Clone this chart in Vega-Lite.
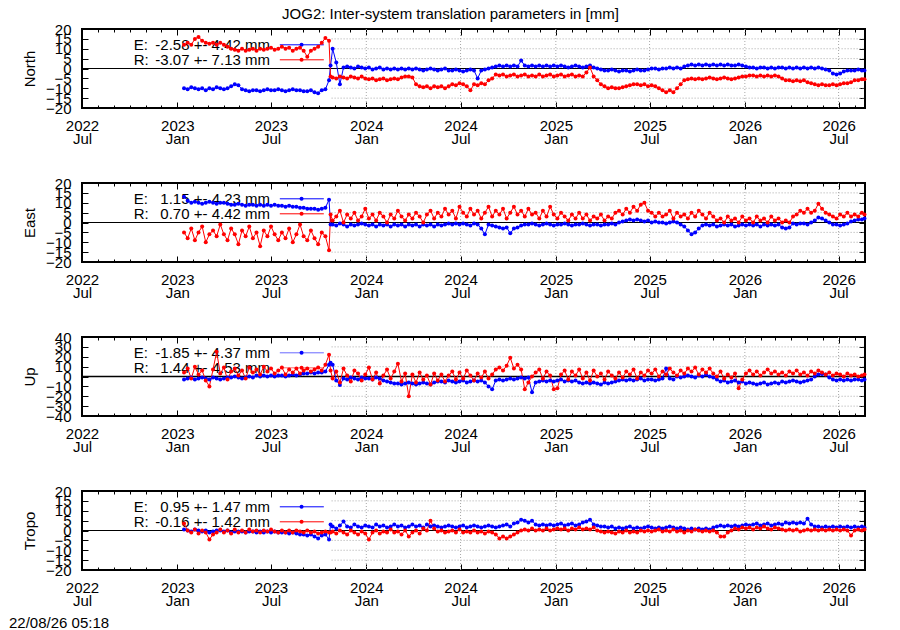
{
  "$schema": "https://vega.github.io/schema/vega-lite/v6.json",
  "autosize": {"type": "pad"},
  "padding": {"left": 8, "top": 7, "right": 30, "bottom": 0},
  "background": "white",
  "title": {"text": "JOG2: Inter-system translation parameters in [mm]", "anchor": "middle", "frame": "group", "dx": -23, "offset": -13, "baseline": "alphabetic", "fontSize": 15, "fontWeight": "normal", "font": "Liberation Sans", "color": "black"},
  "bounds": "flush",
  "spacing": 75,
  "data": {"values": [
    {"d":"2023-01-14","nE":-10,"nR":12,"eE":13,"eR":-5,"uE":-3,"uR":4,"tE":0.5,"tR":3.5},
    {"d":"2023-01-21","nE":-10.5,"nR":13,"eE":11,"eR":-8,"uE":-2,"uR":8,"tE":0,"tR":0},
    {"d":"2023-01-28","nE":-9.5,"nR":12,"eE":10,"eR":-3,"uE":-1,"uR":-2,"tE":-0.5,"tR":-1},
    {"d":"2023-02-04","nE":-10,"nR":15,"eE":10.5,"eR":-9,"uE":-3,"uR":10,"tE":0.5,"tR":0.5},
    {"d":"2023-02-11","nE":-10.5,"nR":16,"eE":10,"eR":-5,"uE":-2,"uR":2,"tE":0,"tR":-1.5},
    {"d":"2023-02-18","nE":-10,"nR":14,"eE":9.5,"eR":-2,"uE":-1,"uR":6,"tE":-0.5,"tR":0},
    {"d":"2023-02-25","nE":-11,"nR":13,"eE":10,"eR":-10,"uE":-2,"uR":-4,"tE":0,"tR":-1},
    {"d":"2023-03-04","nE":-10,"nR":12.5,"eE":10.5,"eR":-6,"uE":-3,"uR":-10,"tE":-1,"tR":-4.5},
    {"d":"2023-03-11","nE":-10.5,"nR":13,"eE":10,"eR":-4,"uE":-1,"uR":7,"tE":-0.5,"tR":-2},
    {"d":"2023-03-18","nE":-9.5,"nR":12,"eE":9.5,"eR":-7,"uE":-2,"uR":25,"tE":0,"tR":-1},
    {"d":"2023-03-25","nE":-10,"nR":13,"eE":10,"eR":-1,"uE":-3,"uR":3,"tE":0,"tR":0.5},
    {"d":"2023-04-01","nE":-10.5,"nR":12,"eE":10,"eR":-6,"uE":-2,"uR":9,"tE":-0.5,"tR":-1},
    {"d":"2023-04-08","nE":-10,"nR":11,"eE":9.5,"eR":-9,"uE":-1,"uR":-3,"tE":0,"tR":0},
    {"d":"2023-04-15","nE":-9,"nR":10,"eE":9,"eR":-3,"uE":-1,"uR":5,"tE":-1,"tR":-1.5},
    {"d":"2023-04-22","nE":-8,"nR":9.5,"eE":9,"eR":-6,"uE":0,"uR":8,"tE":-0.5,"tR":0.5},
    {"d":"2023-04-29","nE":-8.5,"nR":9,"eE":9.5,"eR":-11,"uE":-1,"uR":1,"tE":-0.5,"tR":-1},
    {"d":"2023-05-06","nE":-10.5,"nR":10,"eE":9,"eR":-4,"uE":-2,"uR":6,"tE":-0.5,"tR":0},
    {"d":"2023-05-13","nE":-11,"nR":9,"eE":8.5,"eR":-7,"uE":-1,"uR":-2,"tE":-1,"tR":-1},
    {"d":"2023-05-20","nE":-11.5,"nR":9.5,"eE":9,"eR":-2,"uE":0,"uR":9,"tE":-0.5,"tR":0.5},
    {"d":"2023-05-27","nE":-11,"nR":10,"eE":9,"eR":-8,"uE":-1,"uR":4,"tE":-0.5,"tR":-0.5},
    {"d":"2023-06-03","nE":-11,"nR":9,"eE":8.5,"eR":-5,"uE":1,"uR":7,"tE":-1,"tR":0},
    {"d":"2023-06-10","nE":-11.5,"nR":10,"eE":9,"eR":-12,"uE":0,"uR":2,"tE":-0.5,"tR":-1},
    {"d":"2023-06-17","nE":-11,"nR":9.5,"eE":8.5,"eR":-4,"uE":1,"uR":10,"tE":-1,"tR":0},
    {"d":"2023-06-24","nE":-10.5,"nR":10,"eE":9,"eR":-7,"uE":0,"uR":5,"tE":-0.5,"tR":-0.5},
    {"d":"2023-07-01","nE":-11,"nR":10.5,"eE":8.5,"eR":-2,"uE":1,"uR":8,"tE":-1,"tR":0.5},
    {"d":"2023-07-08","nE":-11,"nR":9.5,"eE":9,"eR":-6,"uE":0,"uR":3,"tE":-0.5,"tR":-0.5},
    {"d":"2023-07-15","nE":-10.5,"nR":10,"eE":8.5,"eR":-9,"uE":1,"uR":6,"tE":-1,"tR":-1},
    {"d":"2023-07-22","nE":-11,"nR":11,"eE":8.5,"eR":-5,"uE":1,"uR":9,"tE":-1,"tR":0},
    {"d":"2023-07-29","nE":-11.5,"nR":10,"eE":8,"eR":-8,"uE":0,"uR":2,"tE":-1,"tR":-1},
    {"d":"2023-08-05","nE":-11,"nR":10.5,"eE":8.5,"eR":-3,"uE":1,"uR":7,"tE":-1.5,"tR":0},
    {"d":"2023-08-12","nE":-10.5,"nR":9,"eE":8,"eR":-10,"uE":2,"uR":4,"tE":-1,"tR":-1},
    {"d":"2023-08-19","nE":-11,"nR":10,"eE":8,"eR":-6,"uE":1,"uR":8,"tE":-1.5,"tR":0},
    {"d":"2023-08-26","nE":-11,"nR":10.5,"eE":7.5,"eR":-1,"uE":2,"uR":3,"tE":-2,"tR":-0.5},
    {"d":"2023-09-02","nE":-11.5,"nR":9,"eE":7.5,"eR":-7,"uE":3,"uR":6,"tE":-2,"tR":-1},
    {"d":"2023-09-09","nE":-11.5,"nR":6,"eE":7,"eR":-9,"uE":3,"uR":8,"tE":-2.5,"tR":0},
    {"d":"2023-09-16","nE":-11,"nR":9,"eE":7,"eR":-4,"uE":4,"uR":5,"tE":-2,"tR":-1},
    {"d":"2023-09-23","nE":-12,"nR":10,"eE":7,"eR":-8,"uE":3,"uR":7,"tE":-3,"tR":-0.5},
    {"d":"2023-09-30","nE":-12.5,"nR":11,"eE":6.5,"eR":-11,"uE":4,"uR":9,"tE":-4,"tR":-1.5},
    {"d":"2023-10-07","nE":-11,"nR":13,"eE":7,"eR":-5,"uE":4,"uR":6,"tE":-2.5,"tR":-1},
    {"d":"2023-10-14","nE":-10.5,"nR":15.5,"eE":7.5,"eR":-7,"uE":5,"uR":12,"tE":-2,"tR":-0.5},
    {"d":"2023-10-21","nE":-6,"nR":14,"eE":11.5,"eR":-14,"uE":12,"uR":22,"tE":-4.5,"tR":-1},
    {"d":"2023-10-24","nE":1.5,"nR":-4,"eE":-1,"eR":4,"uE":14,"uR":6,"tE":3,"tR":-1},
    {"d":"2023-10-28","nE":10,"nR":-4.5,"eE":-1,"eR":1,"uE":12,"uR":-2,"tE":2,"tR":-0.5},
    {"d":"2023-11-04","nE":3,"nR":-5,"eE":-1.5,"eR":3,"uE":-4,"uR":5,"tE":1,"tR":-1.5},
    {"d":"2023-11-11","nE":-8,"nR":-4,"eE":-0.5,"eR":6,"uE":-8.5,"uR":-6,"tE":2.5,"tR":0},
    {"d":"2023-11-18","nE":0.5,"nR":-4.5,"eE":-1,"eR":0,"uE":-2,"uR":8,"tE":4.5,"tR":-1},
    {"d":"2023-11-25","nE":1,"nR":-5,"eE":-2,"eR":4,"uE":-3,"uR":1,"tE":2,"tR":-2},
    {"d":"2023-12-02","nE":0.5,"nR":-4,"eE":-1,"eR":2,"uE":-1,"uR":-5,"tE":1.5,"tR":0},
    {"d":"2023-12-09","nE":0,"nR":-4.5,"eE":-1.5,"eR":5,"uE":-2,"uR":6,"tE":3,"tR":-1},
    {"d":"2023-12-16","nE":1,"nR":-5,"eE":-1,"eR":1,"uE":-3,"uR":3,"tE":2,"tR":-2},
    {"d":"2023-12-23","nE":0.5,"nR":-4,"eE":-0.5,"eR":3,"uE":-1,"uR":-4,"tE":1.5,"tR":-0.5},
    {"d":"2023-12-30","nE":0,"nR":-5,"eE":-1,"eR":7,"uE":-2,"uR":2,"tE":2.5,"tR":-1.5},
    {"d":"2024-01-06","nE":0.5,"nR":-5.5,"eE":-1.5,"eR":2,"uE":-2,"uR":9,"tE":2,"tR":-4.5},
    {"d":"2024-01-13","nE":-0.5,"nR":-5,"eE":-1,"eR":4,"uE":-3,"uR":-3,"tE":1.5,"tR":-1},
    {"d":"2024-01-20","nE":0,"nR":-6,"eE":-2,"eR":1,"uE":-1,"uR":4,"tE":3,"tR":0},
    {"d":"2024-01-27","nE":0.5,"nR":-5.5,"eE":-1,"eR":5,"uE":-2,"uR":-7,"tE":2,"tR":-1.5},
    {"d":"2024-02-03","nE":-0.5,"nR":-5,"eE":-1.5,"eR":3,"uE":-4,"uR":1,"tE":2.5,"tR":-0.5},
    {"d":"2024-02-10","nE":0,"nR":-6,"eE":-1,"eR":0,"uE":-5,"uR":7,"tE":1.5,"tR":-1},
    {"d":"2024-02-17","nE":-0.5,"nR":-5.5,"eE":-2,"eR":4,"uE":-6,"uR":-2,"tE":2,"tR":0.5},
    {"d":"2024-02-24","nE":0,"nR":-5,"eE":-1,"eR":2,"uE":-7,"uR":5,"tE":3,"tR":-1},
    {"d":"2024-03-02","nE":-0.5,"nR":-5.5,"eE":-1.5,"eR":6,"uE":-7,"uR":13,"tE":2,"tR":-0.5},
    {"d":"2024-03-09","nE":0,"nR":-4.5,"eE":-1,"eR":3,"uE":-8,"uR":-5,"tE":2.5,"tR":-2},
    {"d":"2024-03-16","nE":-0.5,"nR":-4,"eE":-2,"eR":1,"uE":-7,"uR":3,"tE":1.5,"tR":0},
    {"d":"2024-03-23","nE":0,"nR":-4,"eE":-1,"eR":4,"uE":-6,"uR":-20,"tE":2,"tR":-3},
    {"d":"2024-03-30","nE":-0.5,"nR":-4.5,"eE":-1.5,"eR":2,"uE":-7,"uR":2,"tE":3,"tR":-1},
    {"d":"2024-04-06","nE":0,"nR":-8,"eE":-1,"eR":5,"uE":-8,"uR":-6,"tE":2,"tR":0},
    {"d":"2024-04-13","nE":-0.5,"nR":-9,"eE":-2,"eR":3,"uE":-7,"uR":4,"tE":2.5,"tR":-1.5},
    {"d":"2024-04-20","nE":-1,"nR":-9.5,"eE":-1,"eR":0,"uE":-6,"uR":-3,"tE":1.5,"tR":1},
    {"d":"2024-04-27","nE":-0.5,"nR":-9,"eE":-1.5,"eR":4,"uE":-7,"uR":1,"tE":3,"tR":0},
    {"d":"2024-05-04","nE":0,"nR":-10,"eE":-1,"eR":6,"uE":-8,"uR":-8,"tE":2,"tR":5},
    {"d":"2024-05-11","nE":-0.5,"nR":-9,"eE":-2,"eR":2,"uE":-6,"uR":3,"tE":2.5,"tR":1},
    {"d":"2024-05-18","nE":-1,"nR":-9.5,"eE":-1,"eR":5,"uE":-5,"uR":-4,"tE":2,"tR":-0.5},
    {"d":"2024-05-25","nE":-0.5,"nR":-9,"eE":-1.5,"eR":3,"uE":-5,"uR":2,"tE":1.5,"tR":0},
    {"d":"2024-06-01","nE":0,"nR":-10,"eE":-1,"eR":7,"uE":-6,"uR":-5,"tE":2,"tR":-1},
    {"d":"2024-06-08","nE":-1,"nR":-9,"eE":-0.5,"eR":4,"uE":-4,"uR":1,"tE":2.5,"tR":-0.5},
    {"d":"2024-06-15","nE":-1,"nR":-8,"eE":-1,"eR":6,"uE":-5,"uR":5,"tE":2,"tR":0},
    {"d":"2024-06-22","nE":-0.5,"nR":-8.5,"eE":-0.5,"eR":2,"uE":-6,"uR":-3,"tE":1.5,"tR":-1},
    {"d":"2024-06-29","nE":-1,"nR":-7.5,"eE":-1,"eR":8,"uE":-5,"uR":4,"tE":2,"tR":0.5},
    {"d":"2024-07-06","nE":-1.5,"nR":-8,"eE":-0.5,"eR":5,"uE":-4,"uR":-2,"tE":2.5,"tR":-1},
    {"d":"2024-07-13","nE":-1,"nR":-9,"eE":-1,"eR":3,"uE":-6,"uR":6,"tE":1.5,"tR":-0.5},
    {"d":"2024-07-20","nE":-0.5,"nR":-11,"eE":-1.5,"eR":7,"uE":-5,"uR":1,"tE":2,"tR":-1},
    {"d":"2024-07-27","nE":-1,"nR":-8,"eE":-0.5,"eR":4,"uE":-4,"uR":-4,"tE":2.5,"tR":0},
    {"d":"2024-08-03","nE":-5,"nR":-8.5,"eE":-1,"eR":6,"uE":-5,"uR":3,"tE":2,"tR":-1},
    {"d":"2024-08-10","nE":-1,"nR":-7.5,"eE":-3,"eR":2,"uE":-4,"uR":-1,"tE":1.5,"tR":-0.5},
    {"d":"2024-08-17","nE":-0.5,"nR":-8,"eE":-6,"eR":5,"uE":-6,"uR":5,"tE":2,"tR":-1.5},
    {"d":"2024-08-24","nE":0,"nR":-6,"eE":-1,"eR":8,"uE":-10,"uR":-2,"tE":2.5,"tR":-0.5},
    {"d":"2024-08-31","nE":0.5,"nR":-5,"eE":-1.5,"eR":3,"uE":-13,"uR":2,"tE":2,"tR":-1},
    {"d":"2024-09-07","nE":1,"nR":-3,"eE":-2,"eR":6,"uE":-4,"uR":7,"tE":1.5,"tR":-2},
    {"d":"2024-09-14","nE":1.5,"nR":-3.5,"eE":-2.5,"eR":4,"uE":-3,"uR":9,"tE":2,"tR":-4},
    {"d":"2024-09-21","nE":1,"nR":-3,"eE":-3,"eR":7,"uE":-4,"uR":6,"tE":2.5,"tR":-3},
    {"d":"2024-09-28","nE":1.5,"nR":-4,"eE":-2.5,"eR":2,"uE":-3,"uR":11,"tE":3,"tR":-4},
    {"d":"2024-10-05","nE":1,"nR":-3.5,"eE":-5.5,"eR":5,"uE":-2,"uR":19,"tE":2,"tR":-3},
    {"d":"2024-10-12","nE":1.5,"nR":-3,"eE":-3,"eR":8,"uE":-3,"uR":8,"tE":3.5,"tR":-2},
    {"d":"2024-10-19","nE":1,"nR":-4,"eE":-2.5,"eR":4,"uE":-2,"uR":12,"tE":4,"tR":-1},
    {"d":"2024-10-26","nE":4,"nR":-3.5,"eE":-1.5,"eR":6,"uE":-1,"uR":7,"tE":5.5,"tR":0},
    {"d":"2024-11-02","nE":1.5,"nR":-3,"eE":-1,"eR":3,"uE":-2,"uR":-13,"tE":5,"tR":0.5},
    {"d":"2024-11-09","nE":1,"nR":-4,"eE":-1,"eR":7,"uE":-1,"uR":-6,"tE":4,"tR":0},
    {"d":"2024-11-16","nE":1.5,"nR":-3.5,"eE":-0.5,"eR":4,"uE":-16,"uR":0,"tE":5,"tR":1},
    {"d":"2024-11-23","nE":1,"nR":-4,"eE":-1,"eR":5,"uE":-6,"uR":4,"tE":3,"tR":0},
    {"d":"2024-11-30","nE":1.5,"nR":-3,"eE":-1.5,"eR":2,"uE":-5,"uR":7,"tE":2.5,"tR":0.5},
    {"d":"2024-12-07","nE":1,"nR":-4,"eE":-1,"eR":6,"uE":-4,"uR":-2,"tE":3,"tR":0},
    {"d":"2024-12-14","nE":1.5,"nR":-3.5,"eE":-0.5,"eR":3,"uE":-5,"uR":5,"tE":2.5,"tR":1},
    {"d":"2024-12-21","nE":1,"nR":-3,"eE":-1,"eR":8,"uE":-4,"uR":1,"tE":3,"tR":0},
    {"d":"2024-12-28","nE":1.5,"nR":-4,"eE":-1.5,"eR":4,"uE":-5,"uR":-13,"tE":2.5,"tR":0.5},
    {"d":"2025-01-04","nE":1,"nR":-3.5,"eE":-1,"eR":2,"uE":-4,"uR":-12,"tE":3,"tR":1},
    {"d":"2025-01-11","nE":1.5,"nR":-3,"eE":-1,"eR":5,"uE":-3,"uR":2,"tE":3.5,"tR":0.5},
    {"d":"2025-01-18","nE":1,"nR":-4,"eE":-0.5,"eR":3,"uE":-5,"uR":6,"tE":2.5,"tR":1},
    {"d":"2025-01-25","nE":0.5,"nR":-3.5,"eE":-1,"eR":1,"uE":-4,"uR":-3,"tE":3,"tR":0},
    {"d":"2025-02-01","nE":1,"nR":-3,"eE":-1.5,"eR":4,"uE":-5,"uR":5,"tE":3.5,"tR":1},
    {"d":"2025-02-08","nE":1.5,"nR":-4,"eE":-1,"eR":2,"uE":-4,"uR":1,"tE":2.5,"tR":0.5},
    {"d":"2025-02-15","nE":1,"nR":-3.5,"eE":-1,"eR":5,"uE":-6,"uR":7,"tE":3,"tR":1.5},
    {"d":"2025-02-22","nE":0.5,"nR":-4,"eE":-0.5,"eR":2,"uE":-7,"uR":-2,"tE":4,"tR":0.5},
    {"d":"2025-03-01","nE":1,"nR":-2,"eE":-1,"eR":4,"uE":-6,"uR":4,"tE":4.5,"tR":1},
    {"d":"2025-03-08","nE":1.5,"nR":0.5,"eE":-1.5,"eR":1,"uE":-7,"uR":-4,"tE":5.5,"tR":0.5},
    {"d":"2025-03-15","nE":0.5,"nR":-4,"eE":-1,"eR":3,"uE":-6,"uR":6,"tE":3,"tR":1.5},
    {"d":"2025-03-22","nE":0,"nR":-6,"eE":-1,"eR":2,"uE":-7,"uR":0,"tE":2.5,"tR":0},
    {"d":"2025-03-29","nE":-0.5,"nR":-8,"eE":-1.5,"eR":4,"uE":-8,"uR":3,"tE":2,"tR":-0.5},
    {"d":"2025-04-05","nE":-1,"nR":-9,"eE":-1,"eR":1,"uE":-6,"uR":-3,"tE":2,"tR":-1},
    {"d":"2025-04-12","nE":-1,"nR":-10,"eE":-1,"eR":3,"uE":-7,"uR":5,"tE":1.5,"tR":-0.5},
    {"d":"2025-04-19","nE":-0.5,"nR":-9.5,"eE":-0.5,"eR":2,"uE":-6,"uR":1,"tE":2,"tR":-1},
    {"d":"2025-04-26","nE":-1,"nR":-10,"eE":-1,"eR":5,"uE":-5,"uR":-2,"tE":1,"tR":-1.5},
    {"d":"2025-05-03","nE":-1.5,"nR":-10,"eE":0,"eR":6,"uE":-4,"uR":4,"tE":1.5,"tR":-0.5},
    {"d":"2025-05-10","nE":-1,"nR":-9.5,"eE":0.5,"eR":4,"uE":-3,"uR":-1,"tE":1,"tR":-1},
    {"d":"2025-05-17","nE":-1,"nR":-9,"eE":1,"eR":7,"uE":-4,"uR":5,"tE":1.5,"tR":0},
    {"d":"2025-05-24","nE":-1.5,"nR":-8.5,"eE":1.5,"eR":5,"uE":-3,"uR":2,"tE":2,"tR":-1},
    {"d":"2025-05-31","nE":-1,"nR":-8,"eE":1,"eR":8,"uE":-4,"uR":7,"tE":1,"tR":-0.5},
    {"d":"2025-06-07","nE":-0.5,"nR":-8,"eE":1.5,"eR":6,"uE":-3,"uR":-2,"tE":1.5,"tR":-1},
    {"d":"2025-06-14","nE":-1,"nR":-8.5,"eE":1,"eR":9,"uE":-2,"uR":4,"tE":1,"tR":0},
    {"d":"2025-06-21","nE":-1,"nR":-8,"eE":0.5,"eR":10,"uE":-4,"uR":1,"tE":1.5,"tR":-0.5},
    {"d":"2025-06-28","nE":-0.5,"nR":-9,"eE":1,"eR":6,"uE":-3,"uR":6,"tE":2,"tR":0},
    {"d":"2025-07-05","nE":0,"nR":-8.5,"eE":0,"eR":5,"uE":-3,"uR":3,"tE":1.5,"tR":-0.5},
    {"d":"2025-07-12","nE":0,"nR":-9,"eE":0.5,"eR":3,"uE":-4,"uR":7,"tE":1,"tR":0},
    {"d":"2025-07-19","nE":-0.5,"nR":-10,"eE":0,"eR":5,"uE":-3,"uR":0,"tE":1.5,"tR":0.5},
    {"d":"2025-07-26","nE":0,"nR":-11,"eE":0,"eR":3,"uE":-2,"uR":5,"tE":1,"tR":-0.5},
    {"d":"2025-08-02","nE":0,"nR":-12,"eE":-0.5,"eR":4,"uE":8,"uR":2,"tE":1.5,"tR":0},
    {"d":"2025-08-09","nE":0.5,"nR":-11,"eE":0,"eR":6,"uE":-2,"uR":8,"tE":2,"tR":-0.5},
    {"d":"2025-08-16","nE":0,"nR":-12,"eE":0.5,"eR":2,"uE":-3,"uR":4,"tE":1.5,"tR":0.5},
    {"d":"2025-08-23","nE":0.5,"nR":-10,"eE":0,"eR":5,"uE":0,"uR":1,"tE":1,"tR":-0.5},
    {"d":"2025-08-30","nE":0,"nR":-8,"eE":-1,"eR":3,"uE":-1,"uR":6,"tE":1.5,"tR":0},
    {"d":"2025-09-06","nE":1,"nR":-6,"eE":-2,"eR":4,"uE":0,"uR":3,"tE":1,"tR":-1},
    {"d":"2025-09-13","nE":1.5,"nR":-5.5,"eE":-4,"eR":2,"uE":1,"uR":8,"tE":0.5,"tR":0},
    {"d":"2025-09-20","nE":2,"nR":-5,"eE":-6,"eR":5,"uE":0,"uR":5,"tE":1,"tR":-0.5},
    {"d":"2025-09-27","nE":1.5,"nR":-5.5,"eE":-5,"eR":3,"uE":-1,"uR":9,"tE":0.5,"tR":0.5},
    {"d":"2025-10-04","nE":2,"nR":-5,"eE":-3,"eR":6,"uE":1,"uR":2,"tE":1,"tR":0},
    {"d":"2025-10-11","nE":1.5,"nR":-5.5,"eE":-1.5,"eR":4,"uE":0,"uR":7,"tE":0.5,"tR":-0.5},
    {"d":"2025-10-18","nE":2,"nR":-5,"eE":-1,"eR":2,"uE":2,"uR":4,"tE":1,"tR":0},
    {"d":"2025-10-25","nE":1.5,"nR":-4.5,"eE":-1.5,"eR":5,"uE":0,"uR":8,"tE":0.5,"tR":-0.5},
    {"d":"2025-11-01","nE":2,"nR":-5,"eE":-1,"eR":3,"uE":-1,"uR":3,"tE":1.5,"tR":0},
    {"d":"2025-11-08","nE":1.5,"nR":-5.5,"eE":-2,"eR":1,"uE":-3,"uR":0,"tE":2,"tR":-1},
    {"d":"2025-11-15","nE":2,"nR":-5,"eE":-1.5,"eR":2,"uE":-5,"uR":5,"tE":2.5,"tR":-3},
    {"d":"2025-11-22","nE":1.5,"nR":-4.5,"eE":-1,"eR":0,"uE":-4,"uR":-2,"tE":2,"tR":-3},
    {"d":"2025-11-29","nE":2,"nR":-5,"eE":-1.5,"eR":3,"uE":-6,"uR":2,"tE":2.5,"tR":-1},
    {"d":"2025-12-06","nE":1.5,"nR":-5.5,"eE":-1,"eR":1,"uE":-5,"uR":-1,"tE":2,"tR":0},
    {"d":"2025-12-13","nE":1.5,"nR":-5,"eE":-2,"eR":2,"uE":-4,"uR":3,"tE":2.5,"tR":1},
    {"d":"2025-12-20","nE":2,"nR":-4.5,"eE":-1.5,"eR":0,"uE":-6,"uR":-12,"tE":2,"tR":0.5},
    {"d":"2025-12-27","nE":1.5,"nR":-4,"eE":-1,"eR":3,"uE":-5,"uR":-3,"tE":2.5,"tR":1.5},
    {"d":"2026-01-03","nE":1,"nR":-4,"eE":-1.5,"eR":1,"uE":-7,"uR":3,"tE":3,"tR":1},
    {"d":"2026-01-10","nE":0.5,"nR":-3.5,"eE":-1,"eR":2,"uE":-6,"uR":6,"tE":2.5,"tR":1.5},
    {"d":"2026-01-17","nE":0.5,"nR":-3.5,"eE":-1.5,"eR":0,"uE":-7,"uR":2,"tE":3,"tR":0.5},
    {"d":"2026-01-24","nE":0,"nR":-4,"eE":-1,"eR":3,"uE":-8,"uR":5,"tE":3.5,"tR":1.5},
    {"d":"2026-01-31","nE":0.5,"nR":-3.5,"eE":-2,"eR":1,"uE":-7,"uR":1,"tE":2.5,"tR":1},
    {"d":"2026-02-07","nE":0.5,"nR":-4,"eE":-1,"eR":2,"uE":-6,"uR":4,"tE":3,"tR":2},
    {"d":"2026-02-14","nE":0,"nR":-3.5,"eE":-1.5,"eR":0,"uE":-8,"uR":7,"tE":3.5,"tR":1},
    {"d":"2026-02-21","nE":0.5,"nR":-4,"eE":-1,"eR":3,"uE":-7,"uR":3,"tE":2.5,"tR":0.5},
    {"d":"2026-02-28","nE":0,"nR":-3.5,"eE":-1.5,"eR":1,"uE":-6,"uR":5,"tE":3,"tR":1.5},
    {"d":"2026-03-07","nE":0.5,"nR":-4,"eE":-1,"eR":2,"uE":-7,"uR":2,"tE":3.5,"tR":1},
    {"d":"2026-03-14","nE":0.5,"nR":-5,"eE":-2.5,"eR":0,"uE":-5,"uR":4,"tE":3,"tR":0.5},
    {"d":"2026-03-21","nE":0,"nR":-6,"eE":-3,"eR":1,"uE":-6,"uR":1,"tE":4,"tR":0},
    {"d":"2026-03-28","nE":0.5,"nR":-6,"eE":-2.5,"eR":0,"uE":-5,"uR":5,"tE":3.5,"tR":0.5},
    {"d":"2026-04-04","nE":0,"nR":-6.5,"eE":-0.5,"eR":3,"uE":-4,"uR":3,"tE":4,"tR":0},
    {"d":"2026-04-11","nE":0.5,"nR":-6,"eE":-1,"eR":4,"uE":-5,"uR":6,"tE":3.5,"tR":0.5},
    {"d":"2026-04-18","nE":0,"nR":-6.5,"eE":-0.5,"eR":6,"uE":-6,"uR":2,"tE":4,"tR":-0.5},
    {"d":"2026-04-25","nE":0.5,"nR":-6,"eE":-0.5,"eR":5,"uE":-5,"uR":4,"tE":3.5,"tR":0},
    {"d":"2026-05-02","nE":0,"nR":-7,"eE":-1,"eR":7,"uE":-4,"uR":1,"tE":6,"tR":0.5},
    {"d":"2026-05-09","nE":0.5,"nR":-7.5,"eE":0,"eR":5,"uE":-3,"uR":5,"tE":3,"tR":0},
    {"d":"2026-05-16","nE":0,"nR":-8,"eE":1,"eR":6,"uE":0,"uR":3,"tE":2,"tR":0.5},
    {"d":"2026-05-23","nE":0.5,"nR":-8.5,"eE":2.5,"eR":9.5,"uE":2,"uR":6,"tE":2,"tR":0},
    {"d":"2026-05-30","nE":0,"nR":-8,"eE":2,"eR":7,"uE":2.5,"uR":4,"tE":1.5,"tR":0.5},
    {"d":"2026-06-06","nE":-0.5,"nR":-8.5,"eE":1,"eR":5,"uE":2,"uR":2,"tE":2,"tR":0},
    {"d":"2026-06-13","nE":-1,"nR":-8.5,"eE":0,"eR":4,"uE":-1,"uR":4,"tE":1.5,"tR":0.5},
    {"d":"2026-06-20","nE":-2.5,"nR":-8,"eE":-1,"eR":3,"uE":-3,"uR":1,"tE":2,"tR":0},
    {"d":"2026-06-27","nE":-3,"nR":-8.5,"eE":-1,"eR":2,"uE":-4,"uR":3,"tE":1.5,"tR":0.5},
    {"d":"2026-07-04","nE":-2.5,"nR":-8,"eE":-1.5,"eR":4,"uE":-3,"uR":2,"tE":2,"tR":0},
    {"d":"2026-07-11","nE":-1.5,"nR":-7.5,"eE":-1,"eR":3,"uE":-4,"uR":0,"tE":1.5,"tR":0.5},
    {"d":"2026-07-18","nE":-1,"nR":-7.5,"eE":-0.5,"eR":5,"uE":-3,"uR":3,"tE":2,"tR":0},
    {"d":"2026-07-25","nE":-1,"nR":-7,"eE":0.5,"eR":3,"uE":-4,"uR":1,"tE":1.5,"tR":-2.5},
    {"d":"2026-08-01","nE":-1,"nR":-6,"eE":1,"eR":4,"uE":-3,"uR":2,"tE":2,"tR":0},
    {"d":"2026-08-08","nE":-0.5,"nR":-6,"eE":1.5,"eR":3,"uE":-3,"uR":0,"tE":1.5,"tR":0.5},
    {"d":"2026-08-15","nE":-1,"nR":-5.5,"eE":1.5,"eR":5,"uE":-4,"uR":1,"tE":2,"tR":0},
    {"d":"2026-08-20","nE":-1,"nR":-5.5,"eE":2,"eR":4,"uE":-3,"uR":2,"tE":1.5,"tR":0.5}
  ]},
  "vconcat": [
    {
      "width": 783, "height": 79,
      "resolve": {"axis": {"x": "independent", "y": "independent"}},
      "layer": [
        {"data": {"values": [{"g": -15}, {"g": -10}, {"g": -5}, {"g": 5}, {"g": 10}, {"g": 15}]},
         "mark": {"type": "rule", "color": "#a8a8a8", "strokeDash": [1, 2]},
         "encoding": {
           "x": {"datum": {"year": 2023, "month": 10, "date": 26, "utc": true}, "type": "temporal", "axis": null},
           "x2": {"datum": {"year": 2026, "month": 8, "date": 21, "utc": true}},
           "y": {"field": "g", "type": "quantitative", "axis": {"orient": "right", "values": [-20, -15, -10, -5, 0, 5, 10, 15, 20], "labels": false, "tickSize": -6, "title": null}}
         }},
        {"data": {"values": [{"d": "2024-01-01"}, {"d": "2024-07-01"}, {"d": "2025-01-01"}, {"d": "2025-07-01"}, {"d": "2026-01-01"}, {"d": "2026-07-01"}]},
         "mark": {"type": "rule", "color": "#a8a8a8", "strokeDash": [1, 2]},
         "encoding": {"x": {"field": "d", "type": "temporal", "axis": {"orient": "top", "tickCount": {"interval": "month", "step": 6}, "labels": false, "tickSize": -6, "title": null}}}},
        {"data": {"values": [{}]}, "mark": {"type": "rule", "color": "black"},
         "encoding": {"y": {"datum": 0, "type": "quantitative", "axis": null}}},
        {"data": {"values": [{}]}, "mark": {"type": "text", "text": ["E:", "R:"], "align": "left", "baseline": "middle", "lineHeight": 15},
         "encoding": {
           "x": {"datum": {"year": 2022, "month": 10, "date": 9, "utc": true}, "type": "temporal", "axis": {"orient": "bottom", "tickCount": {"interval": "month", "step": 1}, "labels": false, "tickSize": -3, "title": null}},
           "y": {"datum": 12, "type": "quantitative", "axis": null}}},
        {"data": {"values": [{}]}, "mark": {"type": "text", "text": ["-2.58 +- 4.42 mm", "-3.07 +- 7.13 mm"], "align": "right", "baseline": "middle", "lineHeight": 15},
         "encoding": {
           "x": {"datum": {"year": 2023, "month": 6, "date": 29, "utc": true}, "type": "temporal", "axis": {"orient": "top", "tickCount": {"interval": "month", "step": 1}, "labels": false, "tickSize": -3, "title": null}},
           "y": {"datum": 12, "type": "quantitative", "axis": null}}},
        {"data": {"values": [{}]}, "mark": {"type": "rule", "color": "#0000ff"},
         "encoding": {"x": {"datum": {"year": 2023, "month": 7, "date": 18, "utc": true}, "type": "temporal", "axis": null}, "x2": {"datum": {"year": 2023, "month": 10, "date": 11, "utc": true}}, "y": {"datum": 12, "type": "quantitative", "axis": null}}},
        {"data": {"values": [{}]}, "mark": {"type": "rule", "color": "#ff0000"},
         "encoding": {"x": {"datum": {"year": 2023, "month": 7, "date": 18, "utc": true}, "type": "temporal", "axis": null}, "x2": {"datum": {"year": 2023, "month": 10, "date": 11, "utc": true}}, "y": {"datum": 4.4, "type": "quantitative", "axis": null}}},
        {"data": {"values": [{}]}, "mark": {"type": "point", "filled": true, "size": 16, "opacity": 1, "color": "#0000ff"},
         "encoding": {"x": {"datum": {"year": 2023, "month": 8, "date": 29, "utc": true}, "type": "temporal", "axis": null}, "y": {"datum": 12, "type": "quantitative", "axis": null}}},
        {"data": {"values": [{}]}, "mark": {"type": "point", "filled": true, "size": 16, "opacity": 1, "color": "#ff0000"},
         "encoding": {"x": {"datum": {"year": 2023, "month": 8, "date": 29, "utc": true}, "type": "temporal", "axis": null}, "y": {"datum": 4.4, "type": "quantitative", "axis": null}}},
        {"transform": [{"fold": ["nE", "nR"], "as": ["s", "v"]}],
         "mark": {"type": "line", "strokeWidth": 1, "point": {"filled": true, "size": 16, "opacity": 1}},
         "encoding": {
           "x": {"field": "d", "type": "temporal",
                 "scale": {"type": "utc", "domain": [{"year": 2022, "month": 7, "date": 1, "utc": true}, {"year": 2026, "month": 8, "date": 21, "utc": true}]},
                 "axis": {"orient": "bottom", "tickCount": {"interval": "month", "step": 6}, "tickSize": -6, "labelPadding": 16, "labelLineHeight": 13, "labelExpr": "[utcFormat(datum.value, '%Y'), utcFormat(datum.value, '%b')]", "title": null}},
           "y": {"field": "v", "type": "quantitative", "scale": {"domain": [-20, 20], "nice": false, "zero": false},
                 "axis": {"orient": "left", "values": [-20, -15, -10, -5, 0, 5, 10, 15, 20], "tickSize": -6, "labelPadding": 17, "title": "North", "titlePadding": 8}},
           "color": {"field": "s", "type": "nominal", "scale": {"domain": ["nE", "nR"], "range": ["#0000ff", "#ff0000"]}, "legend": null}
         }}
      ]
    },
    {
      "width": 783, "height": 79,
      "resolve": {"axis": {"x": "independent", "y": "independent"}},
      "layer": [
        {"data": {"values": [{"g": -15}, {"g": -10}, {"g": -5}, {"g": 5}, {"g": 10}, {"g": 15}]},
         "mark": {"type": "rule", "color": "#a8a8a8", "strokeDash": [1, 2]},
         "encoding": {
           "x": {"datum": {"year": 2023, "month": 10, "date": 26, "utc": true}, "type": "temporal", "axis": null},
           "x2": {"datum": {"year": 2026, "month": 8, "date": 21, "utc": true}},
           "y": {"field": "g", "type": "quantitative", "axis": {"orient": "right", "values": [-20, -15, -10, -5, 0, 5, 10, 15, 20], "labels": false, "tickSize": -6, "title": null}}
         }},
        {"data": {"values": [{"d": "2024-01-01"}, {"d": "2024-07-01"}, {"d": "2025-01-01"}, {"d": "2025-07-01"}, {"d": "2026-01-01"}, {"d": "2026-07-01"}]},
         "mark": {"type": "rule", "color": "#a8a8a8", "strokeDash": [1, 2]},
         "encoding": {"x": {"field": "d", "type": "temporal", "axis": {"orient": "top", "tickCount": {"interval": "month", "step": 6}, "labels": false, "tickSize": -6, "title": null}}}},
        {"data": {"values": [{}]}, "mark": {"type": "rule", "color": "black"},
         "encoding": {"y": {"datum": 0, "type": "quantitative", "axis": null}}},
        {"data": {"values": [{}]}, "mark": {"type": "text", "text": ["E:", "R:"], "align": "left", "baseline": "middle", "lineHeight": 15},
         "encoding": {
           "x": {"datum": {"year": 2022, "month": 10, "date": 9, "utc": true}, "type": "temporal", "axis": {"orient": "bottom", "tickCount": {"interval": "month", "step": 1}, "labels": false, "tickSize": -3, "title": null}},
           "y": {"datum": 12, "type": "quantitative", "axis": null}}},
        {"data": {"values": [{}]}, "mark": {"type": "text", "text": ["1.15 +- 4.23 mm", "0.70 +- 4.42 mm"], "align": "right", "baseline": "middle", "lineHeight": 15},
         "encoding": {
           "x": {"datum": {"year": 2023, "month": 6, "date": 29, "utc": true}, "type": "temporal", "axis": {"orient": "top", "tickCount": {"interval": "month", "step": 1}, "labels": false, "tickSize": -3, "title": null}},
           "y": {"datum": 12, "type": "quantitative", "axis": null}}},
        {"data": {"values": [{}]}, "mark": {"type": "rule", "color": "#0000ff"},
         "encoding": {"x": {"datum": {"year": 2023, "month": 7, "date": 18, "utc": true}, "type": "temporal", "axis": null}, "x2": {"datum": {"year": 2023, "month": 10, "date": 11, "utc": true}}, "y": {"datum": 12, "type": "quantitative", "axis": null}}},
        {"data": {"values": [{}]}, "mark": {"type": "rule", "color": "#ff0000"},
         "encoding": {"x": {"datum": {"year": 2023, "month": 7, "date": 18, "utc": true}, "type": "temporal", "axis": null}, "x2": {"datum": {"year": 2023, "month": 10, "date": 11, "utc": true}}, "y": {"datum": 4.4, "type": "quantitative", "axis": null}}},
        {"data": {"values": [{}]}, "mark": {"type": "point", "filled": true, "size": 16, "opacity": 1, "color": "#0000ff"},
         "encoding": {"x": {"datum": {"year": 2023, "month": 8, "date": 29, "utc": true}, "type": "temporal", "axis": null}, "y": {"datum": 12, "type": "quantitative", "axis": null}}},
        {"data": {"values": [{}]}, "mark": {"type": "point", "filled": true, "size": 16, "opacity": 1, "color": "#ff0000"},
         "encoding": {"x": {"datum": {"year": 2023, "month": 8, "date": 29, "utc": true}, "type": "temporal", "axis": null}, "y": {"datum": 4.4, "type": "quantitative", "axis": null}}},
        {"transform": [{"fold": ["eE", "eR"], "as": ["s", "v"]}],
         "mark": {"type": "line", "strokeWidth": 1, "point": {"filled": true, "size": 16, "opacity": 1}},
         "encoding": {
           "x": {"field": "d", "type": "temporal",
                 "scale": {"type": "utc", "domain": [{"year": 2022, "month": 7, "date": 1, "utc": true}, {"year": 2026, "month": 8, "date": 21, "utc": true}]},
                 "axis": {"orient": "bottom", "tickCount": {"interval": "month", "step": 6}, "tickSize": -6, "labelPadding": 16, "labelLineHeight": 13, "labelExpr": "[utcFormat(datum.value, '%Y'), utcFormat(datum.value, '%b')]", "title": null}},
           "y": {"field": "v", "type": "quantitative", "scale": {"domain": [-20, 20], "nice": false, "zero": false},
                 "axis": {"orient": "left", "values": [-20, -15, -10, -5, 0, 5, 10, 15, 20], "tickSize": -6, "labelPadding": 17, "title": "East", "titlePadding": 8}},
           "color": {"field": "s", "type": "nominal", "scale": {"domain": ["eE", "eR"], "range": ["#0000ff", "#ff0000"]}, "legend": null}
         }}
      ]
    },
    {
      "width": 783, "height": 79,
      "resolve": {"axis": {"x": "independent", "y": "independent"}},
      "layer": [
        {"data": {"values": [{"g": -30}, {"g": -20}, {"g": -10}, {"g": 10}, {"g": 20}, {"g": 30}]},
         "mark": {"type": "rule", "color": "#a8a8a8", "strokeDash": [1, 2]},
         "encoding": {
           "x": {"datum": {"year": 2023, "month": 10, "date": 26, "utc": true}, "type": "temporal", "axis": null},
           "x2": {"datum": {"year": 2026, "month": 8, "date": 21, "utc": true}},
           "y": {"field": "g", "type": "quantitative", "axis": {"orient": "right", "values": [-40, -30, -20, -10, 0, 10, 20, 30, 40], "labels": false, "tickSize": -6, "title": null}}
         }},
        {"data": {"values": [{"d": "2024-01-01"}, {"d": "2024-07-01"}, {"d": "2025-01-01"}, {"d": "2025-07-01"}, {"d": "2026-01-01"}, {"d": "2026-07-01"}]},
         "mark": {"type": "rule", "color": "#a8a8a8", "strokeDash": [1, 2]},
         "encoding": {"x": {"field": "d", "type": "temporal", "axis": {"orient": "top", "tickCount": {"interval": "month", "step": 6}, "labels": false, "tickSize": -6, "title": null}}}},
        {"data": {"values": [{}]}, "mark": {"type": "rule", "color": "black", "strokeWidth": 1.5},
         "encoding": {"y": {"datum": 0, "type": "quantitative", "axis": null}}},
        {"data": {"values": [{}]}, "mark": {"type": "text", "text": ["E:", "R:"], "align": "left", "baseline": "middle", "lineHeight": 15},
         "encoding": {
           "x": {"datum": {"year": 2022, "month": 10, "date": 9, "utc": true}, "type": "temporal", "axis": {"orient": "bottom", "tickCount": {"interval": "month", "step": 1}, "labels": false, "tickSize": -3, "title": null}},
           "y": {"datum": 24, "type": "quantitative", "axis": null}}},
        {"data": {"values": [{}]}, "mark": {"type": "text", "text": ["-1.85 +- 4.37 mm", "1.44 +- 4.53 mm"], "align": "right", "baseline": "middle", "lineHeight": 15},
         "encoding": {
           "x": {"datum": {"year": 2023, "month": 6, "date": 29, "utc": true}, "type": "temporal", "axis": {"orient": "top", "tickCount": {"interval": "month", "step": 1}, "labels": false, "tickSize": -3, "title": null}},
           "y": {"datum": 24, "type": "quantitative", "axis": null}}},
        {"data": {"values": [{}]}, "mark": {"type": "rule", "color": "#6a6aff"},
         "encoding": {"x": {"datum": {"year": 2023, "month": 7, "date": 18, "utc": true}, "type": "temporal", "axis": null}, "x2": {"datum": {"year": 2023, "month": 10, "date": 11, "utc": true}}, "y": {"datum": 24, "type": "quantitative", "axis": null}}},
        {"data": {"values": [{}]}, "mark": {"type": "rule", "color": "#ff6a6a"},
         "encoding": {"x": {"datum": {"year": 2023, "month": 7, "date": 18, "utc": true}, "type": "temporal", "axis": null}, "x2": {"datum": {"year": 2023, "month": 10, "date": 11, "utc": true}}, "y": {"datum": 8.8, "type": "quantitative", "axis": null}}},
        {"data": {"values": [{}]}, "mark": {"type": "point", "filled": true, "size": 16, "opacity": 1, "color": "#0000ff"},
         "encoding": {"x": {"datum": {"year": 2023, "month": 8, "date": 29, "utc": true}, "type": "temporal", "axis": null}, "y": {"datum": 24, "type": "quantitative", "axis": null}}},
        {"data": {"values": [{}]}, "mark": {"type": "point", "filled": true, "size": 16, "opacity": 1, "color": "#ff0000"},
         "encoding": {"x": {"datum": {"year": 2023, "month": 8, "date": 29, "utc": true}, "type": "temporal", "axis": null}, "y": {"datum": 8.8, "type": "quantitative", "axis": null}}},
        {"transform": [{"fold": ["uE", "uR"], "as": ["s", "v"]}],
         "mark": {"type": "line", "strokeWidth": 1, "point": {"filled": true, "size": 16, "opacity": 1}},
         "encoding": {
           "x": {"field": "d", "type": "temporal",
                 "scale": {"type": "utc", "domain": [{"year": 2022, "month": 7, "date": 1, "utc": true}, {"year": 2026, "month": 8, "date": 21, "utc": true}]},
                 "axis": {"orient": "bottom", "tickCount": {"interval": "month", "step": 6}, "tickSize": -6, "labelPadding": 16, "labelLineHeight": 13, "labelExpr": "[utcFormat(datum.value, '%Y'), utcFormat(datum.value, '%b')]", "title": null}},
           "y": {"field": "v", "type": "quantitative", "scale": {"domain": [-40, 40], "nice": false, "zero": false},
                 "axis": {"orient": "left", "values": [-40, -30, -20, -10, 0, 10, 20, 30, 40], "tickSize": -6, "labelPadding": 17, "title": "Up", "titlePadding": 8}},
           "color": {"field": "s", "type": "nominal", "scale": {"domain": ["uE", "uR"], "range": ["#0000ff", "#ff0000"]}, "legend": null}
         }}
      ]
    },
    {
      "width": 783, "height": 79,
      "title": {"text": "22/08/26 05:18", "orient": "bottom", "anchor": "start", "frame": "group", "dx": -73, "offset": 8, "fontSize": 15, "fontWeight": "normal", "font": "Liberation Sans", "color": "black"},
      "resolve": {"axis": {"x": "independent", "y": "independent"}},
      "layer": [
        {"data": {"values": [{"g": -15}, {"g": -10}, {"g": -5}, {"g": 5}, {"g": 10}, {"g": 15}]},
         "mark": {"type": "rule", "color": "#a8a8a8", "strokeDash": [1, 2]},
         "encoding": {
           "x": {"datum": {"year": 2023, "month": 10, "date": 26, "utc": true}, "type": "temporal", "axis": null},
           "x2": {"datum": {"year": 2026, "month": 8, "date": 21, "utc": true}},
           "y": {"field": "g", "type": "quantitative", "axis": {"orient": "right", "values": [-20, -15, -10, -5, 0, 5, 10, 15, 20], "labels": false, "tickSize": -6, "title": null}}
         }},
        {"data": {"values": [{"d": "2024-01-01"}, {"d": "2024-07-01"}, {"d": "2025-01-01"}, {"d": "2025-07-01"}, {"d": "2026-01-01"}, {"d": "2026-07-01"}]},
         "mark": {"type": "rule", "color": "#a8a8a8", "strokeDash": [1, 2]},
         "encoding": {"x": {"field": "d", "type": "temporal", "axis": {"orient": "top", "tickCount": {"interval": "month", "step": 6}, "labels": false, "tickSize": -6, "title": null}}}},
        {"data": {"values": [{}]}, "mark": {"type": "rule", "color": "black"},
         "encoding": {"y": {"datum": 0, "type": "quantitative", "axis": null}}},
        {"data": {"values": [{}]}, "mark": {"type": "text", "text": ["E:", "R:"], "align": "left", "baseline": "middle", "lineHeight": 15},
         "encoding": {
           "x": {"datum": {"year": 2022, "month": 10, "date": 9, "utc": true}, "type": "temporal", "axis": {"orient": "bottom", "tickCount": {"interval": "month", "step": 1}, "labels": false, "tickSize": -3, "title": null}},
           "y": {"datum": 12, "type": "quantitative", "axis": null}}},
        {"data": {"values": [{}]}, "mark": {"type": "text", "text": ["0.95 +- 1.47 mm", "-0.16 +- 1.42 mm"], "align": "right", "baseline": "middle", "lineHeight": 15},
         "encoding": {
           "x": {"datum": {"year": 2023, "month": 6, "date": 29, "utc": true}, "type": "temporal", "axis": {"orient": "top", "tickCount": {"interval": "month", "step": 1}, "labels": false, "tickSize": -3, "title": null}},
           "y": {"datum": 12, "type": "quantitative", "axis": null}}},
        {"data": {"values": [{}]}, "mark": {"type": "rule", "color": "#0000ff"},
         "encoding": {"x": {"datum": {"year": 2023, "month": 7, "date": 18, "utc": true}, "type": "temporal", "axis": null}, "x2": {"datum": {"year": 2023, "month": 10, "date": 11, "utc": true}}, "y": {"datum": 12, "type": "quantitative", "axis": null}}},
        {"data": {"values": [{}]}, "mark": {"type": "rule", "color": "#ff0000"},
         "encoding": {"x": {"datum": {"year": 2023, "month": 7, "date": 18, "utc": true}, "type": "temporal", "axis": null}, "x2": {"datum": {"year": 2023, "month": 10, "date": 11, "utc": true}}, "y": {"datum": 4.4, "type": "quantitative", "axis": null}}},
        {"data": {"values": [{}]}, "mark": {"type": "point", "filled": true, "size": 16, "opacity": 1, "color": "#0000ff"},
         "encoding": {"x": {"datum": {"year": 2023, "month": 8, "date": 29, "utc": true}, "type": "temporal", "axis": null}, "y": {"datum": 12, "type": "quantitative", "axis": null}}},
        {"data": {"values": [{}]}, "mark": {"type": "point", "filled": true, "size": 16, "opacity": 1, "color": "#ff0000"},
         "encoding": {"x": {"datum": {"year": 2023, "month": 8, "date": 29, "utc": true}, "type": "temporal", "axis": null}, "y": {"datum": 4.4, "type": "quantitative", "axis": null}}},
        {"transform": [{"fold": ["tE", "tR"], "as": ["s", "v"]}],
         "mark": {"type": "line", "strokeWidth": 1, "point": {"filled": true, "size": 16, "opacity": 1}},
         "encoding": {
           "x": {"field": "d", "type": "temporal",
                 "scale": {"type": "utc", "domain": [{"year": 2022, "month": 7, "date": 1, "utc": true}, {"year": 2026, "month": 8, "date": 21, "utc": true}]},
                 "axis": {"orient": "bottom", "tickCount": {"interval": "month", "step": 6}, "tickSize": -6, "labelPadding": 16, "labelLineHeight": 13, "labelExpr": "[utcFormat(datum.value, '%Y'), utcFormat(datum.value, '%b')]", "title": null}},
           "y": {"field": "v", "type": "quantitative", "scale": {"domain": [-20, 20], "nice": false, "zero": false},
                 "axis": {"orient": "left", "values": [-20, -15, -10, -5, 0, 5, 10, 15, 20], "tickSize": -6, "labelPadding": 17, "title": "Tropo", "titlePadding": 8}},
           "color": {"field": "s", "type": "nominal", "scale": {"domain": ["tE", "tR"], "range": ["#0000ff", "#ff0000"]}, "legend": null}
         }}
      ]
    }
  ],
  "config": {
    "font": "Liberation Sans",
    "view": {"stroke": "black", "strokeWidth": 2},
    "axis": {"domain": false, "grid": false, "labelFont": "Liberation Sans", "labelFontSize": 15, "labelColor": "black", "tickColor": "black", "tickWidth": 1, "titleFont": "Liberation Sans", "titleFontSize": 15, "titleFontWeight": "normal", "titleColor": "black", "labelOverlap": false, "labelFlush": false},
    "text": {"font": "Liberation Sans", "fontSize": 15, "color": "black"}
  }
}
